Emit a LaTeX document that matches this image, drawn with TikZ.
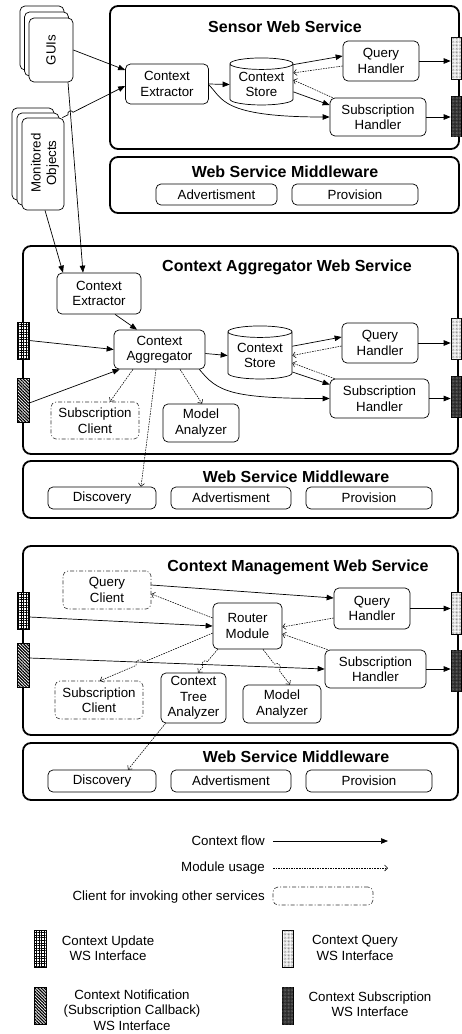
\documentclass[tikz,border=0pt]{standalone}
\usepackage{fontspec}
\setmainfont{Liberation Sans}
\usetikzlibrary{arrows.meta,shapes.geometric,patterns,patterns.meta,calc}
\newcommand\mfont{\fontsize{13.3}{15.5}\selectfont}
\newcommand\tfont{\fontsize{16}{19}\selectfont\bfseries}
\begin{document}
\begin{tikzpicture}[x=1pt,y=-1pt,
 mod/.style={draw, fill=white, rounded corners=5pt, align=center, inner sep=1pt, line width=0.7pt, font=\mfont},
 cli/.style={mod, dash pattern=on 4pt off 2pt on 1pt off 2pt, line width=0.6pt, draw=black!80},
 store/.style={draw, fill=white, shape=cylinder, shape border rotate=90, aspect=0.25, line width=0.7pt, align=center, font=\mfont, inner sep=0pt},
 svc/.style={draw, line width=1.8pt, rounded corners=8pt, inner sep=0pt},
 ttl/.style={font=\tfont},
 flow/.style={line width=0.7pt, -{Triangle[length=7pt,width=5.5pt]}},
 use/.style={line width=0.55pt, dash pattern=on 1.6pt off 1pt, -{Straight Barb[length=3pt,width=6pt]}},
 ifc/.style={draw, line width=0.6pt, inner sep=0pt},
 upd/.style={ifc, fill=white, postaction={pattern={Hatch[angle=0, distance=2.6pt, line width=0.6pt]}}},
 qry/.style={ifc, fill=white, postaction={pattern={Dots[distance=1.4pt, radius=0.35pt]}, pattern color=black!70}},
 ntf/.style={ifc, fill=white, postaction={pattern={Lines[angle=-45, distance=2.2pt, line width=1.2pt]}}},
 sub/.style={ifc, fill=black!85, postaction={pattern={Dots[distance=1.4pt, radius=0.35pt]}, pattern color=black!45}},
 lbl/.style={font=\mfont, align=center, inner sep=0pt},
]
\useasboundingbox (0,0) rectangle (461,1034);

% ================= Sensor Web Service =================
\node[svc, minimum width=349pt, minimum height=143pt] (sws) at (284.5,77.5) {};
\node[ttl] (swsT) at (285,27) {Sensor Web Service};
\node[svc, minimum width=349pt, minimum height=56pt] (mw1) at (284.5,185) {};
\node[ttl] (mw1T) at (285,172) {Web Service Middleware};
\node[mod, minimum width=121pt, minimum height=21pt] (adv1) at (216.5,194.5) {Advertisment};
\node[mod, minimum width=126pt, minimum height=21pt] (prov1) at (355,194.5) {Provision};

\node[mod, minimum width=44pt, minimum height=64pt] (gui3) at (42,38) {};
\node[mod, minimum width=44pt, minimum height=64pt] (gui2) at (46.5,44) {};
\node[mod, minimum width=44pt, minimum height=64pt] (gui) at (51,50) {};
\node[lbl, rotate=90] (guiT) at (gui) {GUIs};
\node[mod, minimum width=42pt, minimum height=92pt] (mo3) at (33,154) {};
\node[mod, minimum width=42pt, minimum height=92pt] (mo2) at (38,159) {};
\node[mod, minimum width=42pt, minimum height=92pt] (mo) at (43,164) {};
\node[lbl, rotate=90] (moT) at (45,163) {Monitored\\Objects};

\node[mod, minimum width=83pt, minimum height=40pt] (ce1) at (167,84) {Context\\Extractor};
\node[store, minimum width=63pt, minimum height=47pt] (cs1) at (261.5,84.5) {Context\\Store};
\node[mod, minimum width=76pt, minimum height=40pt] (qh1) at (381,61) {Query\\Handler};
\node[mod, minimum width=96pt, minimum height=38pt] (sh1) at (378,117) {Subscription\\Handler};
\node[qry, minimum width=10pt, minimum height=42pt] (qi1) at (456,58) {};
\node[sub, minimum width=10pt, minimum height=40pt] (si1) at (456,116) {};

% ================= Context Aggregator Web Service =================
\node[svc, minimum width=435pt, minimum height=208pt] (caws) at (240.5,350) {};
\node[ttl] (cawsT) at (287,267) {Context Aggregator Web Service};
\node[svc, minimum width=435pt, minimum height=57pt] (mw2) at (240.5,489.5) {};
\node[ttl] (mw2T) at (296,477) {Web Service Middleware};
\node[mod, minimum width=108pt, minimum height=22pt] (disc2) at (102,498) {Discovery};
\node[mod, minimum width=120pt, minimum height=22pt] (adv2) at (231,498) {Advertisment};
\node[mod, minimum width=126pt, minimum height=22pt] (prov2) at (369,498) {Provision};

\node[mod, minimum width=84pt, minimum height=41pt] (ce2) at (99,293.5) {Context\\Extractor};
\node[mod, minimum width=91pt, minimum height=39pt] (ca) at (159.5,349.5) {Context\\Aggregator};
\node[store, minimum width=64pt, minimum height=53pt] (cs2) at (260,355.5) {Context\\Store};
\node[mod, minimum width=76pt, minimum height=40pt] (qh2) at (380,343) {Query\\Handler};
\node[mod, minimum width=99pt, minimum height=39pt] (sh2) at (379.5,398.5) {Subscription\\Handler};
\node[cli, minimum width=88pt, minimum height=37pt] (sc2) at (95,420.5) {Subscription\\Client};
\node[mod, minimum width=76pt, minimum height=38pt] (ma2) at (201,423) {Model\\Analyzer};
\node[upd, minimum width=12pt, minimum height=37pt] (ui2) at (23,340.5) {};
\node[ntf, minimum width=12pt, minimum height=44pt] (ni2) at (23,400) {};
\node[qry, minimum width=10pt, minimum height=41pt] (qi2) at (456,338.5) {};
\node[sub, minimum width=10pt, minimum height=41pt] (si2) at (456,396.5) {};

% ================= Context Management Web Service =================
\node[svc, minimum width=435pt, minimum height=189pt] (cmws) at (240.5,640.5) {};
\node[ttl] (cmwsT) at (298,567) {Context Management Web Service};
\node[svc, minimum width=435pt, minimum height=57pt] (mw3) at (240.5,771.5) {};
\node[ttl] (mw3T) at (296,757) {Web Service Middleware};
\node[mod, minimum width=108pt, minimum height=22pt] (disc3) at (102,781) {Discovery};
\node[mod, minimum width=120pt, minimum height=22pt] (adv3) at (231,781) {Advertisment};
\node[mod, minimum width=126pt, minimum height=22pt] (prov3) at (369,781) {Provision};

\node[cli, minimum width=88pt, minimum height=38pt] (qc) at (107,590) {Query\\Client};
\node[mod, minimum width=69pt, minimum height=46pt] (rm) at (247.5,626) {Router\\Module};
\node[mod, minimum width=76pt, minimum height=41pt] (qh3) at (372,608.5) {Query\\Handler};
\node[mod, minimum width=101pt, minimum height=38pt] (sh3) at (375.5,669) {Subscription\\Handler};
\node[cli, minimum width=88pt, minimum height=38pt] (sc3) at (99,700) {Subscription\\Client};
\node[mod, minimum width=65pt, minimum height=50pt] (cta) at (193.5,698) {Context\\Tree\\Analyzer};
\node[mod, minimum width=78pt, minimum height=38pt] (ma3) at (282,704) {Model\\Analyzer};
\node[upd, minimum width=12pt, minimum height=37pt] (ui3) at (23,610.5) {};
\node[ntf, minimum width=12pt, minimum height=44pt] (ni3) at (23,665) {};
\node[qry, minimum width=10pt, minimum height=42pt] (qi3) at (456,613) {};
\node[sub, minimum width=10pt, minimum height=41pt] (si3) at (456,670.5) {};

% ================= connectors: top =================
\draw[flow] (gui.east) -- ([yshift=14pt]ce1.west);
\coordinate (moA) at ([xshift=-2pt]mo.north east);
\coordinate (moB) at ([yshift=-2pt]ce1.west);
\draw[flow] (moA) -- ($(moA)!0.09!(moB)$) to[bend left=90, looseness=1.6] ($(moA)!0.17!(moB)$) -- (moB);
\draw[flow] (ce1.east) -- (cs1.180);
\draw[flow] ([yshift=-1pt]ce1.east) .. controls ($(ce1.east)+(14,14)$) and ($(sh1.west)+(-110,0)$) .. (sh1.west);
\draw[flow] (cs1.32) -- ([yshift=5pt]qh1.west);
\draw[use] ([yshift=-5pt]qh1.west) -- (cs1.20);
\draw[use] ([xshift=3pt]sh1.north west) -- (cs1.8);
\draw[flow] (cs1.-13) -- ([yshift=12pt]sh1.west);
\draw[flow] (qh1.east) -- (qh1.east -| qi1.west);
\draw[flow] (sh1.east) -- (sh1.east -| si1.west);
\draw[flow] ([xshift=17pt]gui.south) -- ([xshift=-16pt]ce2.north);
\draw[flow] ([xshift=2pt]mo.south) -- ([xshift=-36pt]ce2.north);

% ================= connectors: middle =================
\draw[flow] ([xshift=16pt]ce2.south) -- ([xshift=-22.5pt]ca.north);
\draw[flow] (ui2.east) -- (ca.west);
\draw[flow] ([yshift=-3pt]ni2.east) -- ([xshift=6pt]ca.south west);
\draw[flow] ([yshift=-4pt]ca.east) -- (cs2.180);
\draw[flow] ([xshift=-6pt]ca.south east) .. controls ($(ca.south east)+(12,22)$) and ($(sh2.west)+(-100,0)$) .. (sh2.west);
\draw[flow] (cs2.16) -- ([yshift=6pt]qh2.west);
\draw[use] ([yshift=-3pt]qh2.west) -- (cs2.0);
\draw[use] ([xshift=5pt]sh2.north west) -- (cs2.-13);
\draw[flow] (cs2.-27) -- ([yshift=14pt]sh2.west);
\draw[flow] (qh2.east) -- (qh2.east -| qi2.west);
\draw[flow] (sh2.east) -- (sh2.east -| si2.west);
\draw[use] ([xshift=-26.5pt]ca.south) -- ([xshift=15pt]sc2.north);
\draw[use] ([xshift=20.5pt]ca.south) -- ([xshift=1pt]ma2.north);
\draw[use] ([xshift=-3.5pt]ca.south) -- ([xshift=39pt]disc2.north);

% ================= connectors: bottom =================
\draw[flow] ([yshift=5pt]qc.east) -- ([yshift=10.5pt]qh3.west);
\draw[flow] ([yshift=-6.5pt]ui3.east) -- (rm.west);
\draw[flow] ([yshift=7pt]ni3.east) -- (sh3.west);
\draw[use] ([yshift=8pt]rm.west) -- ([yshift=-4pt]qc.east);
\draw[use] ([yshift=-9.5pt]qh3.west) -- ([yshift=-1pt]rm.east);
\draw[use] ([xshift=3pt]sh3.north west) -- ([yshift=-8pt]rm.east);
\coordinate (r1a) at ([yshift=-7pt]rm.west);
\coordinate (r1b) at ([xshift=1pt]sc3.north);
\draw[use] (r1a) -- ($(r1a)!0.61!(r1b)$) to[bend right=90, looseness=1.6] ($(r1a)!0.68!(r1b)$) -- (r1b);
\coordinate (r2a) at ([xshift=5pt]rm.south west);
\coordinate (r2b) at ([xshift=4.5pt]cta.north);
\draw[use] (r2a) -- ($(r2a)!0.52!(r2b)$) to[bend right=90, looseness=1.6] ($(r2a)!0.74!(r2b)$) -- (r2b);
\coordinate (r3a) at ([xshift=15.5pt]rm.south);
\coordinate (r3b) at ([xshift=8pt]ma3.north);
\draw[use] (r3a) -- ($(r3a)!0.42!(r3b)$) to[bend left=90, looseness=1.6] ($(r3a)!0.6!(r3b)$) -- (r3b);
\draw[flow] (qh3.east) -- (qh3.east -| qi3.west);
\draw[flow] (sh3.east) -- (sh3.east -| si3.west);
\draw[use] ([xshift=-28pt]cta.south) -- ([xshift=26pt]disc3.north);

% ================= legend =================
\node[lbl, anchor=east] (lg1) at (265,841) {Context flow};
\coordinate (lg1a) at (273,841);
\coordinate (lg1b) at (388,841);
\draw[flow] (lg1a) -- (lg1b);
\node[lbl, anchor=east] (lg2) at (265,868) {Module usage};
\coordinate (lg2a) at (273,868);
\coordinate (lg2b) at (388,868);
\draw[use] (lg2a) -- (lg2b);
\node[lbl, anchor=east] (lg3) at (265,897) {Client for invoking other services};
\node[cli, minimum width=100pt, minimum height=18pt] (lg3b) at (323,896) {};

\node[upd, minimum width=12pt, minimum height=37pt] (sw1) at (40,948.5) {};
\node[lbl] (sw1T) at (108,948) {Context Update\\WS Interface};
\node[qry, minimum width=11pt, minimum height=37pt] (sw2) at (287.5,948.5) {};
\node[lbl] (sw2T) at (355,948) {Context Query\\WS Interface};
\node[ntf, minimum width=12pt, minimum height=37pt] (sw3) at (40,1005.5) {};
\node[lbl] (sw3T) at (132,1010) {Context Notification\\(Subscription Callback)\\WS Interface};
\node[sub, minimum width=11pt, minimum height=37pt] (sw4) at (287.5,1005.5) {};
\node[lbl] (sw4T) at (370,1004) {Context Subscription\\WS Interface};
\end{tikzpicture}
\end{document}
